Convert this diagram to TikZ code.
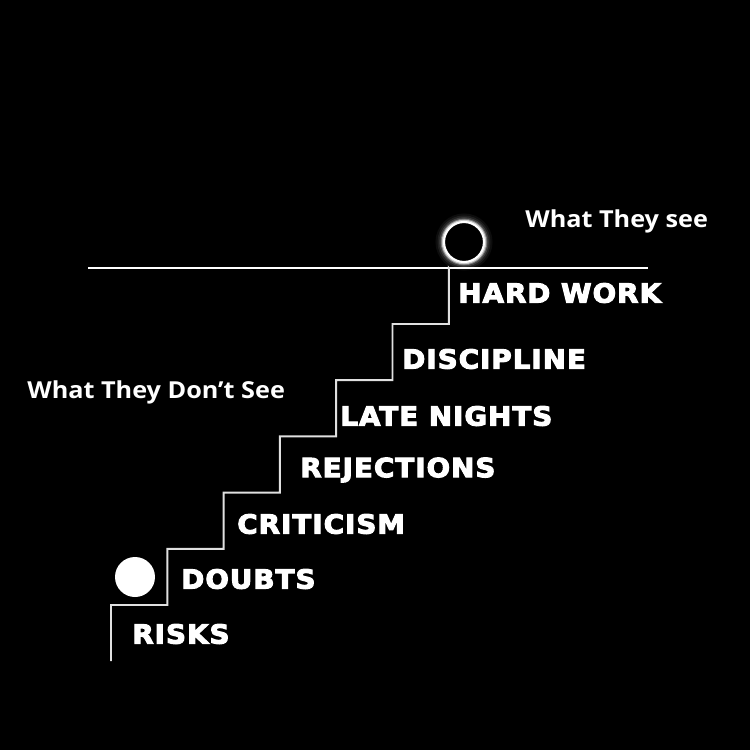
\documentclass[tikz,border=0pt]{standalone}
\usepackage{fontspec}
\usepackage{tikz}
\usetikzlibrary{positioning}
\newfontfamily\stepfont[FakeStretch=1.05,FakeBold=4,LetterSpace=4]{DejaVu Sans Bold}
\newfontfamily\sidefont[FakeStretch=1.08]{Open Sans}

\begin{document}
\begin{tikzpicture}[
  x=0.02cm, y=-0.02cm,
  lbl/.style ={text=white, inner sep=0pt, anchor=west,
               font=\stepfont\fontsize{15}{16}\selectfont},
  side/.style={text=white, inner sep=0pt, anchor=base west,
               font=\sidefont\bfseries\fontsize{13.3}{15}\selectfont},
  stair/.style={draw=white!88!black, line width=1.1pt},
  ground/.style={draw=white, line width=1.7pt}
]
\fill[black] (0,0) rectangle (750,750);
\useasboundingbox (0,0) rectangle (750,750);

% the part everyone sees
\coordinate (gl) at (88,268);
\coordinate (gr) at (648,268);
\draw[ground] (gl) -- (gr);

% staircase, bottom to top
\coordinate (s0) at (111,661);
\draw[stair] (s0) -- (111,605)
  \foreach \i in {1,...,6} { -| ({111+56.3*\i},{605-56.2*\i}) }
  -- (449,268);

% labels on the steps
\node[lbl] (risks) at (132,634) {RISKS};
\node[lbl] (doubt) at (181,579) {DOUBTS};
\node[lbl] (crit)  at (237,524) {CRITICISM};
\node[lbl] (rej)   at (300,470) {REJECTIONS};
\node[lbl] (late)  at (340,416) {LATE NIGHTS};
\node[lbl] (disc)  at (402,359) {DISCIPLINE};
\node[lbl] (hard)  at (458,293) {HARD WORK};

\node[side] (dont) at (27,398) {What They Don’t See};
\node[side] (see)  at (525,227) {What They see};

% the two balls
\node[circle, fill=white, minimum size=0.8cm, inner sep=0pt] (low) at (135,577) {};
\foreach \w/\o in {16/0.05, 12/0.08, 8.5/0.14, 5.5/0.3, 3.5/0.6}
  \draw[white, opacity=\o, line width=\w*0.567pt] (464,242) circle (20.5);
\node[circle, fill=black, draw=white, line width=1.2pt,
      minimum size=0.8cm, inner sep=0pt] (top) at (464,242) {};
\end{tikzpicture}
\end{document}
